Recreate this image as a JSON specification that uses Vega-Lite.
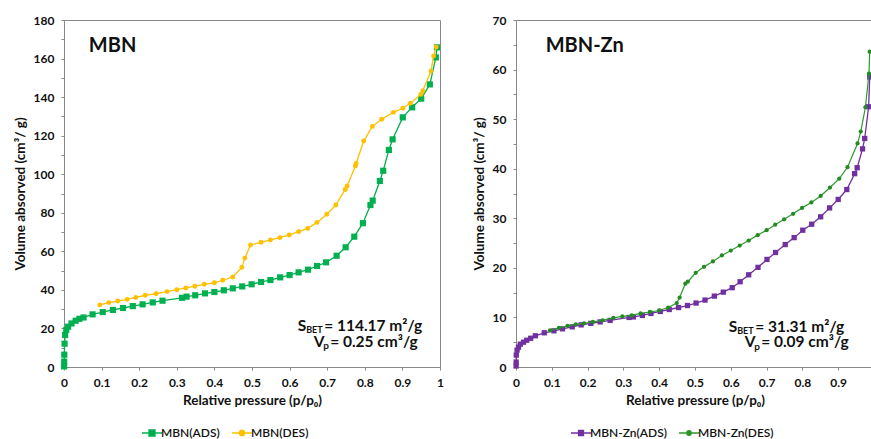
{
  "$schema": "https://vega.github.io/schema/vega-lite/v6.json",
  "padding": {"left": 12, "top": 13, "right": 0, "bottom": 0},
  "background": "white",
  "spacing": 27,
  "resolve": {
    "scale": {"fill": "independent", "stroke": "independent", "shape": "independent"},
    "legend": {"fill": "independent", "stroke": "independent", "shape": "independent"}
  },
  "datasets": {
    "mbn_ads": [
      {"p": 0.0003, "v": 0.3}, {"p": 0.0005, "v": 2.8}, {"p": 0.0008, "v": 6.4}, {"p": 0.0015, "v": 12.1},
      {"p": 0.003, "v": 16.6}, {"p": 0.006, "v": 19.2}, {"p": 0.011, "v": 20.9}, {"p": 0.02, "v": 22.6},
      {"p": 0.031, "v": 24.0}, {"p": 0.041, "v": 25.0}, {"p": 0.052, "v": 25.7}, {"p": 0.076, "v": 27.3},
      {"p": 0.103, "v": 28.5}, {"p": 0.13, "v": 29.6}, {"p": 0.157, "v": 30.6}, {"p": 0.183, "v": 31.6},
      {"p": 0.209, "v": 32.5}, {"p": 0.236, "v": 33.5}, {"p": 0.262, "v": 34.4}, {"p": 0.314, "v": 35.9},
      {"p": 0.326, "v": 36.5}, {"p": 0.349, "v": 37.2}, {"p": 0.375, "v": 38.2}, {"p": 0.4, "v": 38.9},
      {"p": 0.425, "v": 39.8}, {"p": 0.449, "v": 40.8}, {"p": 0.474, "v": 41.8}, {"p": 0.499, "v": 42.9},
      {"p": 0.524, "v": 44.1}, {"p": 0.549, "v": 45.1}, {"p": 0.575, "v": 46.5}, {"p": 0.6, "v": 47.7},
      {"p": 0.624, "v": 49.1}, {"p": 0.649, "v": 50.5}, {"p": 0.673, "v": 52.4}, {"p": 0.697, "v": 54.3},
      {"p": 0.725, "v": 57.7}, {"p": 0.749, "v": 62.1}, {"p": 0.772, "v": 67.6}, {"p": 0.795, "v": 74.6},
      {"p": 0.815, "v": 84.0}, {"p": 0.821, "v": 86.3}, {"p": 0.84, "v": 96.5}, {"p": 0.849, "v": 101.8},
      {"p": 0.864, "v": 112.6}, {"p": 0.874, "v": 118.1}, {"p": 0.901, "v": 129.5}, {"p": 0.926, "v": 134.7},
      {"p": 0.95, "v": 139.2}, {"p": 0.973, "v": 146.6}, {"p": 0.989, "v": 160.6}, {"p": 0.992, "v": 165.8}
    ],
    "mbn_des": [
      {"p": 0.095, "v": 32.2}, {"p": 0.119, "v": 33.4}, {"p": 0.143, "v": 34.2}, {"p": 0.168, "v": 35.1},
      {"p": 0.191, "v": 36.1}, {"p": 0.216, "v": 37.2}, {"p": 0.245, "v": 38.0}, {"p": 0.274, "v": 39.1},
      {"p": 0.3, "v": 40.1}, {"p": 0.324, "v": 41.0}, {"p": 0.348, "v": 41.9}, {"p": 0.373, "v": 42.9},
      {"p": 0.4, "v": 43.7}, {"p": 0.422, "v": 45.0}, {"p": 0.449, "v": 46.7}, {"p": 0.473, "v": 51.7},
      {"p": 0.481, "v": 56.5}, {"p": 0.496, "v": 63.3}, {"p": 0.524, "v": 64.7}, {"p": 0.549, "v": 65.9},
      {"p": 0.574, "v": 67.1}, {"p": 0.599, "v": 68.5}, {"p": 0.624, "v": 70.2}, {"p": 0.648, "v": 71.9},
      {"p": 0.673, "v": 75.0}, {"p": 0.699, "v": 79.2}, {"p": 0.723, "v": 84.0}, {"p": 0.748, "v": 92.1},
      {"p": 0.753, "v": 93.9}, {"p": 0.775, "v": 104.3}, {"p": 0.777, "v": 105.6}, {"p": 0.797, "v": 117.2},
      {"p": 0.82, "v": 124.8}, {"p": 0.845, "v": 128.5}, {"p": 0.876, "v": 132.1}, {"p": 0.901, "v": 134.2},
      {"p": 0.921, "v": 136.8}, {"p": 0.949, "v": 141.4}, {"p": 0.954, "v": 143.2}, {"p": 0.976, "v": 153.5},
      {"p": 0.983, "v": 161.3}, {"p": 0.99, "v": 166.0}
    ],
    "zn_ads": [
      {"p": 0.0003, "v": 0.2}, {"p": 0.0005, "v": 1.0}, {"p": 0.0008, "v": 2.4}, {"p": 0.003, "v": 3.4},
      {"p": 0.007, "v": 4.0}, {"p": 0.012, "v": 4.6}, {"p": 0.021, "v": 5.0}, {"p": 0.03, "v": 5.4},
      {"p": 0.041, "v": 5.8}, {"p": 0.054, "v": 6.3}, {"p": 0.079, "v": 6.9}, {"p": 0.106, "v": 7.3},
      {"p": 0.13, "v": 7.7}, {"p": 0.157, "v": 8.1}, {"p": 0.182, "v": 8.5}, {"p": 0.209, "v": 8.8},
      {"p": 0.235, "v": 9.1}, {"p": 0.263, "v": 9.4}, {"p": 0.316, "v": 10.0}, {"p": 0.328, "v": 10.1},
      {"p": 0.353, "v": 10.4}, {"p": 0.377, "v": 10.8}, {"p": 0.403, "v": 11.2}, {"p": 0.428, "v": 11.6},
      {"p": 0.454, "v": 12.0}, {"p": 0.479, "v": 12.4}, {"p": 0.503, "v": 12.9}, {"p": 0.528, "v": 13.5},
      {"p": 0.554, "v": 14.3}, {"p": 0.579, "v": 15.1}, {"p": 0.604, "v": 16.0}, {"p": 0.626, "v": 17.2},
      {"p": 0.65, "v": 18.6}, {"p": 0.676, "v": 20.1}, {"p": 0.701, "v": 21.7}, {"p": 0.725, "v": 23.1},
      {"p": 0.752, "v": 24.7}, {"p": 0.777, "v": 26.1}, {"p": 0.801, "v": 27.6}, {"p": 0.826, "v": 28.8},
      {"p": 0.851, "v": 30.3}, {"p": 0.876, "v": 32.1}, {"p": 0.9, "v": 33.8}, {"p": 0.924, "v": 35.8},
      {"p": 0.946, "v": 39.0}, {"p": 0.953, "v": 40.2}, {"p": 0.968, "v": 44.0}, {"p": 0.974, "v": 46.1},
      {"p": 0.985, "v": 52.5}, {"p": 0.988, "v": 58.5}
    ],
    "zn_des": [
      {"p": 0.095, "v": 7.4}, {"p": 0.12, "v": 7.9}, {"p": 0.144, "v": 8.3}, {"p": 0.167, "v": 8.6},
      {"p": 0.19, "v": 8.8}, {"p": 0.215, "v": 9.1}, {"p": 0.242, "v": 9.4}, {"p": 0.272, "v": 9.9},
      {"p": 0.297, "v": 10.2}, {"p": 0.323, "v": 10.4}, {"p": 0.348, "v": 10.8}, {"p": 0.374, "v": 11.1},
      {"p": 0.4, "v": 11.4}, {"p": 0.425, "v": 12.0}, {"p": 0.449, "v": 12.9}, {"p": 0.457, "v": 14.0},
      {"p": 0.473, "v": 16.8}, {"p": 0.48, "v": 17.2}, {"p": 0.502, "v": 19.0}, {"p": 0.525, "v": 20.2},
      {"p": 0.55, "v": 21.3}, {"p": 0.575, "v": 22.5}, {"p": 0.6, "v": 23.5}, {"p": 0.625, "v": 24.5},
      {"p": 0.65, "v": 25.5}, {"p": 0.675, "v": 26.6}, {"p": 0.7, "v": 27.6}, {"p": 0.724, "v": 28.7},
      {"p": 0.749, "v": 29.8}, {"p": 0.774, "v": 30.9}, {"p": 0.799, "v": 32.1}, {"p": 0.825, "v": 33.2},
      {"p": 0.851, "v": 34.5}, {"p": 0.877, "v": 36.2}, {"p": 0.903, "v": 38.0}, {"p": 0.926, "v": 40.3},
      {"p": 0.954, "v": 45.1}, {"p": 0.963, "v": 47.5}, {"p": 0.976, "v": 52.4}, {"p": 0.986, "v": 59.2},
      {"p": 0.988, "v": 63.6}
    ]
  },
  "config": {
    "font": "Lato",
    "view": {"stroke": "#888888", "strokeWidth": 1},
    "axis": {
      "grid": false, "domainColor": "#888888", "tickColor": "#888888", "tickSize": 3,
      "labelFont": "Lato", "labelFontSize": 12, "labelFontWeight": "bold", "labelColor": "#111111",
      "titleFont": "Lato", "titleFontSize": 13.5, "titleFontWeight": "bold", "titleColor": "#111111",
      "labelPadding": 7
    },
    "axisY": {"titlePadding": 6},
    "axisX": {"titlePadding": 5},
    "legend": {
      "orient": "none", "direction": "horizontal", "symbolSize": 100,
      "labelFont": "Lato", "labelFontSize": 12, "labelFontWeight": 600, "labelColor": "#111111",
      "columnPadding": 9, "labelOffset": 3, "symbolStrokeWidth": 1.3, "padding": 0
    }
  },
  "hconcat": [
    {
      "width": 376,
      "height": 347,
      "layer": [
        {
          "data": {"name": "mbn_ads"},
          "mark": {"type": "line", "color": "#00B050", "strokeWidth": 1.3},
          "encoding": {
            "x": {"field": "p", "type": "quantitative", "scale": {"domain": [0, 1]}, "axis": {"tickCount": 10, "format": "~g", "labelOverlap": false, "labelFlush": false, "title": "Relative pressure (p/p₀)"}},
            "y": {"field": "v", "type": "quantitative", "scale": {"domain": [0, 180]}, "axis": {"tickCount": 18, "labelOverlap": false, "labelFlush": false, "labelExpr": "datum.value % 20 === 0 ? datum.label : ''", "title": "Volume absorved (cm³/ g)"}}
          }
        },
        {
          "data": {"name": "mbn_ads"},
          "mark": {"type": "point", "shape": "square", "filled": true, "size": 38, "color": "#00B050", "opacity": 1},
          "encoding": {
            "x": {"field": "p", "type": "quantitative", "scale": {"domain": [0, 1]}, "axis": {"tickCount": 10, "format": "~g", "labelOverlap": false, "labelFlush": false, "title": "Relative pressure (p/p₀)"}},
            "y": {"field": "v", "type": "quantitative", "scale": {"domain": [0, 180]}, "axis": {"tickCount": 18, "labelOverlap": false, "labelFlush": false, "labelExpr": "datum.value % 20 === 0 ? datum.label : ''", "title": "Volume absorved (cm³/ g)"}}
          }
        },
        {
          "data": {"name": "mbn_des"},
          "mark": {"type": "line", "color": "#FFC000", "strokeWidth": 1.3},
          "encoding": {
            "x": {"field": "p", "type": "quantitative", "scale": {"domain": [0, 1]}, "axis": {"tickCount": 10, "format": "~g", "labelOverlap": false, "labelFlush": false, "title": "Relative pressure (p/p₀)"}},
            "y": {"field": "v", "type": "quantitative", "scale": {"domain": [0, 180]}, "axis": {"tickCount": 18, "labelOverlap": false, "labelFlush": false, "labelExpr": "datum.value % 20 === 0 ? datum.label : ''", "title": "Volume absorved (cm³/ g)"}}
          }
        },
        {
          "data": {"name": "mbn_des"},
          "mark": {"type": "point", "shape": "circle", "filled": true, "size": 24, "color": "#FFC000", "opacity": 1},
          "encoding": {
            "x": {"field": "p", "type": "quantitative", "scale": {"domain": [0, 1]}, "axis": {"tickCount": 10, "format": "~g", "labelOverlap": false, "labelFlush": false, "title": "Relative pressure (p/p₀)"}},
            "y": {"field": "v", "type": "quantitative", "scale": {"domain": [0, 180]}, "axis": {"tickCount": 18, "labelOverlap": false, "labelFlush": false, "labelExpr": "datum.value % 20 === 0 ? datum.label : ''", "title": "Volume absorved (cm³/ g)"}}
          }
        },
        {
          "data": {"values": [{"s": "MBN(ADS)"}, {"s": "MBN(DES)"}]},
          "transform": [{"filter": "datum.s === 'none'"}],
          "mark": {"type": "point", "filled": true, "opacity": 1},
          "encoding": {
            "fill": {"field": "s", "type": "nominal", "scale": {"domain": ["MBN(ADS)", "MBN(DES)"], "range": ["#00B050", "#FFC000"]}, "legend": {"title": null, "legendX": 82, "legendY": 407}},
            "stroke": {"field": "s", "type": "nominal", "scale": {"domain": ["MBN(ADS)", "MBN(DES)"], "range": ["#00B050", "#FFC000"]}, "legend": {"title": null, "legendX": 82, "legendY": 407}},
            "shape": {"field": "s", "type": "nominal", "scale": {"domain": ["MBN(ADS)", "MBN(DES)"],
              "range": ["M-2,0L2,0M-0.6,-0.6L0.6,-0.6L0.6,0.6L-0.6,0.6Z", "M-2,0L2,0M0.55,0A0.55,0.55,0,1,1,-0.55,0A0.55,0.55,0,1,1,0.55,0Z"]}, "legend": {"title": null, "legendX": 82, "legendY": 407}}
          }
        },
        {
          "data": {"values": [{}]},
          "mark": {"type": "text", "text": "MBN", "align": "left", "baseline": "alphabetic", "fontSize": 20, "fontWeight": "bold", "color": "#111111"},
          "encoding": {"x": {"datum": 0.066, "type": "quantitative"}, "y": {"datum": 163.5, "type": "quantitative"}}
        },
        {
          "data": {"values": [{}]},
          "mark": {"type": "text", "text": "S", "align": "left", "baseline": "alphabetic", "fontSize": 15.5, "fontWeight": "bold", "color": "#111111"},
          "encoding": {"x": {"datum": 0.6215, "type": "quantitative"}, "y": {"datum": 18.7, "type": "quantitative"}}
        },
        {
          "data": {"values": [{}]},
          "mark": {"type": "text", "text": "BET", "align": "left", "baseline": "alphabetic", "dx": 8.5, "dy": 2.5, "fontSize": 9, "fontWeight": "bold", "color": "#111111"},
          "encoding": {"x": {"datum": 0.6215, "type": "quantitative"}, "y": {"datum": 18.7, "type": "quantitative"}}
        },
        {
          "data": {"values": [{}]},
          "mark": {"type": "text", "text": "= 114.17 m²/g", "align": "left", "baseline": "alphabetic", "dx": 26.5, "fontSize": 15.5, "fontWeight": "bold", "color": "#111111"},
          "encoding": {"x": {"datum": 0.6215, "type": "quantitative"}, "y": {"datum": 18.7, "type": "quantitative"}}
        },
        {
          "data": {"values": [{}]},
          "mark": {"type": "text", "text": "V", "align": "left", "baseline": "alphabetic", "dx": 16, "fontSize": 15.5, "fontWeight": "bold", "color": "#111111"},
          "encoding": {"x": {"datum": 0.6215, "type": "quantitative"}, "y": {"datum": 10.5, "type": "quantitative"}}
        },
        {
          "data": {"values": [{}]},
          "mark": {"type": "text", "text": "p", "align": "left", "baseline": "alphabetic", "dx": 25.5, "dy": 2.5, "fontSize": 10, "fontWeight": "bold", "color": "#111111"},
          "encoding": {"x": {"datum": 0.6215, "type": "quantitative"}, "y": {"datum": 10.5, "type": "quantitative"}}
        },
        {
          "data": {"values": [{}]},
          "mark": {"type": "text", "text": "=  0.25 cm³/g", "align": "left", "baseline": "alphabetic", "dx": 32.5, "fontSize": 15.5, "fontWeight": "bold", "color": "#111111"},
          "encoding": {"x": {"datum": 0.6215, "type": "quantitative"}, "y": {"datum": 10.5, "type": "quantitative"}}
        }
      ]
    },
    {
      "width": 358,
      "height": 347,
      "layer": [
        {
          "data": {"name": "zn_ads"},
          "mark": {"type": "line", "color": "#7030A0", "strokeWidth": 1.3},
          "encoding": {
            "x": {"field": "p", "type": "quantitative", "scale": {"domain": [0, 0.99]}, "axis": {"tickCount": 10, "format": "~g", "labelOverlap": false, "labelFlush": false, "title": "Relative pressure (p/p₀)"}},
            "y": {"field": "v", "type": "quantitative", "scale": {"domain": [0, 70]}, "axis": {"tickCount": 14, "labelOverlap": false, "labelFlush": false, "labelExpr": "datum.value % 10 === 0 ? datum.label : ''", "title": "Volume absorved (cm³/ g)"}}
          }
        },
        {
          "data": {"name": "zn_ads"},
          "mark": {"type": "point", "shape": "square", "filled": true, "size": 28, "color": "#7030A0", "opacity": 1},
          "encoding": {
            "x": {"field": "p", "type": "quantitative", "scale": {"domain": [0, 0.99]}, "axis": {"tickCount": 10, "format": "~g", "labelOverlap": false, "labelFlush": false, "title": "Relative pressure (p/p₀)"}},
            "y": {"field": "v", "type": "quantitative", "scale": {"domain": [0, 70]}, "axis": {"tickCount": 14, "labelOverlap": false, "labelFlush": false, "labelExpr": "datum.value % 10 === 0 ? datum.label : ''", "title": "Volume absorved (cm³/ g)"}}
          }
        },
        {
          "data": {"name": "zn_des"},
          "mark": {"type": "line", "color": "#2E9A2E", "strokeWidth": 1.2},
          "encoding": {
            "x": {"field": "p", "type": "quantitative", "scale": {"domain": [0, 0.99]}, "axis": {"tickCount": 10, "format": "~g", "labelOverlap": false, "labelFlush": false, "title": "Relative pressure (p/p₀)"}},
            "y": {"field": "v", "type": "quantitative", "scale": {"domain": [0, 70]}, "axis": {"tickCount": 14, "labelOverlap": false, "labelFlush": false, "labelExpr": "datum.value % 10 === 0 ? datum.label : ''", "title": "Volume absorved (cm³/ g)"}}
          }
        },
        {
          "data": {"name": "zn_des"},
          "mark": {"type": "point", "shape": "circle", "filled": true, "size": 18, "color": "#228B22", "opacity": 1},
          "encoding": {
            "x": {"field": "p", "type": "quantitative", "scale": {"domain": [0, 0.99]}, "axis": {"tickCount": 10, "format": "~g", "labelOverlap": false, "labelFlush": false, "title": "Relative pressure (p/p₀)"}},
            "y": {"field": "v", "type": "quantitative", "scale": {"domain": [0, 70]}, "axis": {"tickCount": 14, "labelOverlap": false, "labelFlush": false, "labelExpr": "datum.value % 10 === 0 ? datum.label : ''", "title": "Volume absorved (cm³/ g)"}}
          }
        },
        {
          "data": {"values": [{"s": "MBN-Zn(ADS)"}, {"s": "MBN-Zn(DES)"}]},
          "transform": [{"filter": "datum.s === 'none'"}],
          "mark": {"type": "point", "filled": true, "opacity": 1},
          "encoding": {
            "fill": {"field": "s", "type": "nominal", "scale": {"domain": ["MBN-Zn(ADS)", "MBN-Zn(DES)"], "range": ["#7030A0", "#228B22"]}, "legend": {"title": null, "legendX": 59, "legendY": 407}},
            "stroke": {"field": "s", "type": "nominal", "scale": {"domain": ["MBN-Zn(ADS)", "MBN-Zn(DES)"], "range": ["#7030A0", "#2E9A2E"]}, "legend": {"title": null, "legendX": 59, "legendY": 407}},
            "shape": {"field": "s", "type": "nominal", "scale": {"domain": ["MBN-Zn(ADS)", "MBN-Zn(DES)"],
              "range": ["M-2,0L2,0M-0.5,-0.5L0.5,-0.5L0.5,0.5L-0.5,0.5Z", "M-2,0L2,0M0.45,0A0.45,0.45,0,1,1,-0.45,0A0.45,0.45,0,1,1,0.45,0Z"]}, "legend": {"title": null, "legendX": 59, "legendY": 407}}
          }
        },
        {
          "data": {"values": [{}]},
          "mark": {"type": "text", "text": "MBN-Zn", "align": "left", "baseline": "alphabetic", "fontSize": 20, "fontWeight": "bold", "color": "#111111"},
          "encoding": {"x": {"datum": 0.083, "type": "quantitative"}, "y": {"datum": 63.6, "type": "quantitative"}}
        },
        {
          "data": {"values": [{}]},
          "mark": {"type": "text", "text": "S", "align": "left", "baseline": "alphabetic", "fontSize": 15.5, "fontWeight": "bold", "color": "#111111"},
          "encoding": {"x": {"datum": 0.594, "type": "quantitative"}, "y": {"datum": 7.15, "type": "quantitative"}}
        },
        {
          "data": {"values": [{}]},
          "mark": {"type": "text", "text": "BET", "align": "left", "baseline": "alphabetic", "dx": 8.5, "dy": 2.5, "fontSize": 9, "fontWeight": "bold", "color": "#111111"},
          "encoding": {"x": {"datum": 0.594, "type": "quantitative"}, "y": {"datum": 7.15, "type": "quantitative"}}
        },
        {
          "data": {"values": [{}]},
          "mark": {"type": "text", "text": "= 31.31 m²/g", "align": "left", "baseline": "alphabetic", "dx": 26.5, "fontSize": 15.5, "fontWeight": "bold", "color": "#111111"},
          "encoding": {"x": {"datum": 0.594, "type": "quantitative"}, "y": {"datum": 7.15, "type": "quantitative"}}
        },
        {
          "data": {"values": [{}]},
          "mark": {"type": "text", "text": "V", "align": "left", "baseline": "alphabetic", "dx": 16, "fontSize": 15.5, "fontWeight": "bold", "color": "#111111"},
          "encoding": {"x": {"datum": 0.594, "type": "quantitative"}, "y": {"datum": 4.0, "type": "quantitative"}}
        },
        {
          "data": {"values": [{}]},
          "mark": {"type": "text", "text": "p", "align": "left", "baseline": "alphabetic", "dx": 25.5, "dy": 2.5, "fontSize": 10, "fontWeight": "bold", "color": "#111111"},
          "encoding": {"x": {"datum": 0.594, "type": "quantitative"}, "y": {"datum": 4.0, "type": "quantitative"}}
        },
        {
          "data": {"values": [{}]},
          "mark": {"type": "text", "text": "=  0.09 cm³/g", "align": "left", "baseline": "alphabetic", "dx": 32.5, "fontSize": 15.5, "fontWeight": "bold", "color": "#111111"},
          "encoding": {"x": {"datum": 0.594, "type": "quantitative"}, "y": {"datum": 4.0, "type": "quantitative"}}
        }
      ]
    }
  ]
}
